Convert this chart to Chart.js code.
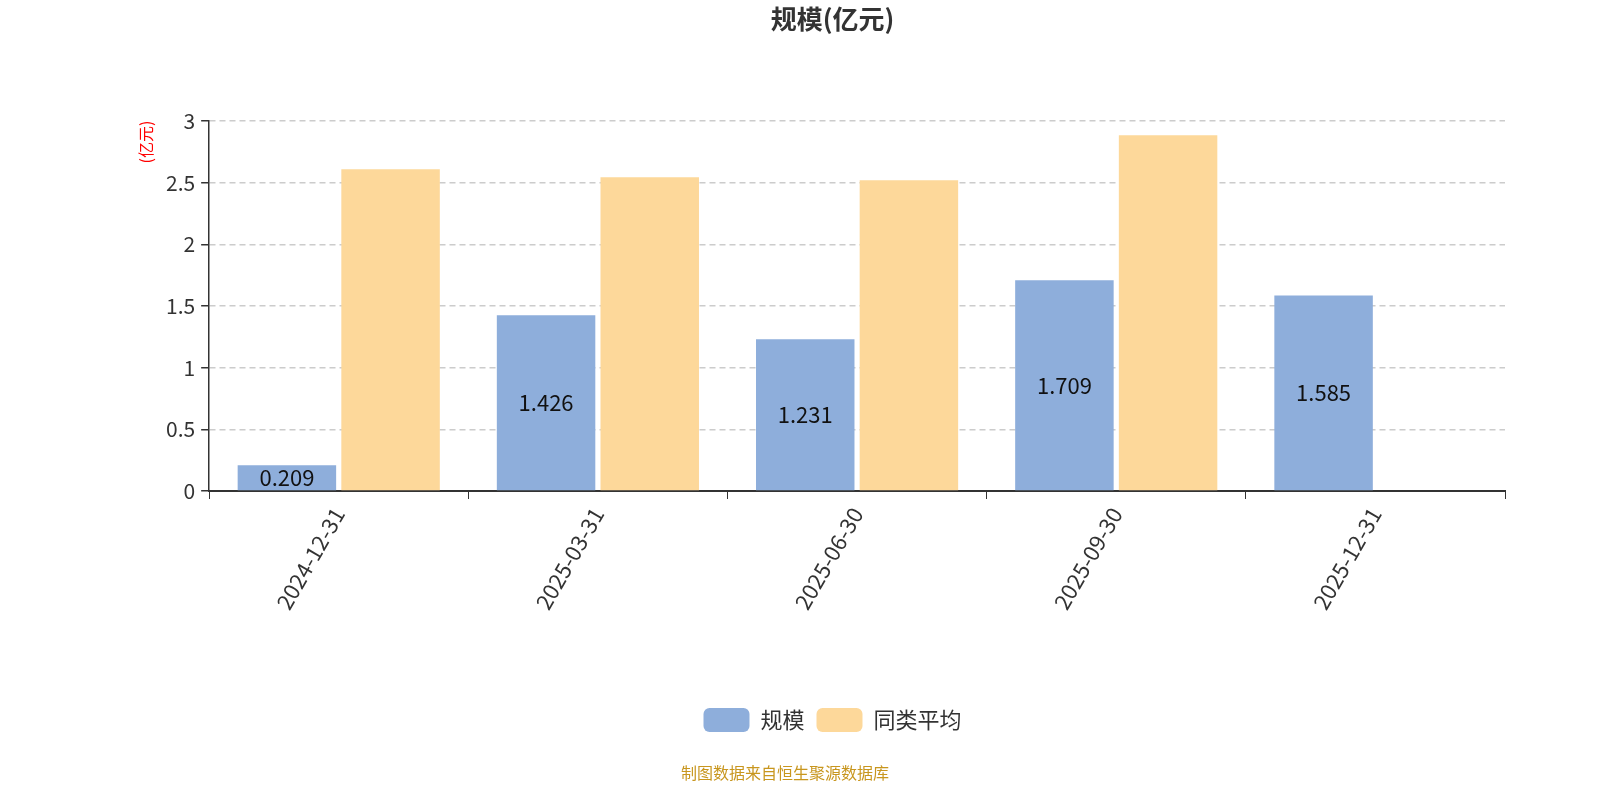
<!DOCTYPE html>
<html><head><meta charset="utf-8">
<script src="https://cdn.jsdelivr.net/npm/chart.js@4/dist/chart.umd.min.js"></script>
<style>html,body{margin:0;padding:0;background:#fff}#w{width:1600px;height:800px}</style>
</head><body><div id="w"><canvas id="c"></canvas></div>
<script>
const categories = ['2024-12-31','2025-03-31','2025-06-30','2025-09-30','2025-12-31'];
const scaleValues = [0.209,1.426,1.231,1.709,1.585];
const peerAvg = [2.61,2.545,2.52,2.886,null];
const yTicks = [0,0.5,1,1.5,2,2.5,3];
const F = '"Noto Sans CJK SC","Noto Sans",sans-serif';
const extra = {
  id:'extra',
  afterDatasetsDraw(ch){
    const c=ch.ctx, m=ch.getDatasetMeta(0);
    c.save();c.font='22px '+F;c.fillStyle='#111';c.textAlign='center';c.textBaseline='middle';
    m.data.forEach((b,i)=>{c.fillText(String(scaleValues[i]),b.x,(b.y+b.base)/2);});
    c.restore();
  },
  afterDraw(ch){
    const c=ch.ctx;c.save();
    c.fillStyle='red';c.font='16px '+F;c.translate(146,142);c.rotate(-Math.PI/2);c.textAlign='center';c.textBaseline='middle';c.fillText('(亿元)',0,0);
    c.restore();c.save();
    c.fillStyle='#c8961e';c.font='16px '+F;c.textAlign='center';c.textBaseline='middle';c.fillText('制图数据来自恒生聚源数据库',785,773);
    c.restore();
  }
};
new Chart(document.getElementById('c'),{
  type:'bar',
  data:{labels:categories,datasets:[
    {label:'规模',data:scaleValues,backgroundColor:'#8eaedb',borderWidth:0},
    {label:'同类平均',data:peerAvg,backgroundColor:'#fdd89a',borderWidth:0}
  ]},
  options:{responsive:true,maintainAspectRatio:false,animation:false,
    layout:{padding:{left:160,right:95,top:0,bottom:58}},
    datasets:{bar:{categoryPercentage:0.8,barPercentage:0.95}},
    plugins:{
      title:{display:true,text:'规模(亿元)',font:{family:F,size:26,weight:'bold'},color:'#333',padding:{top:4,bottom:86}},
      legend:{position:'bottom',labels:{font:{family:F,size:22},color:'#333',boxWidth:46,boxHeight:24,useBorderRadius:true,borderRadius:6,padding:12}},
      tooltip:{enabled:false}
    },
    scales:{
      x:{grid:{drawOnChartArea:false,color:'#333',tickLength:8,offset:true},border:{color:'#333',width:2},
        afterFit(a){a.height=205;},
        ticks:{font:{family:F,size:22},color:'#333',maxRotation:60,minRotation:60,padding:4}},
      y:{min:0,max:3,afterBuildTicks(a){a.ticks=yTicks.map(v=>({value:v}));},
        grid:{color:'#ccc',lineWidth:1.5,tickLength:8,tickColor:'#333'},border:{display:true,color:'#333',width:1.5,dash:[6,4]},
        ticks:{font:{family:F,size:21},color:'#333',padding:6,callback:v=>String(v)}}
    }
  },
  plugins:[extra]
});
</script></body></html>
